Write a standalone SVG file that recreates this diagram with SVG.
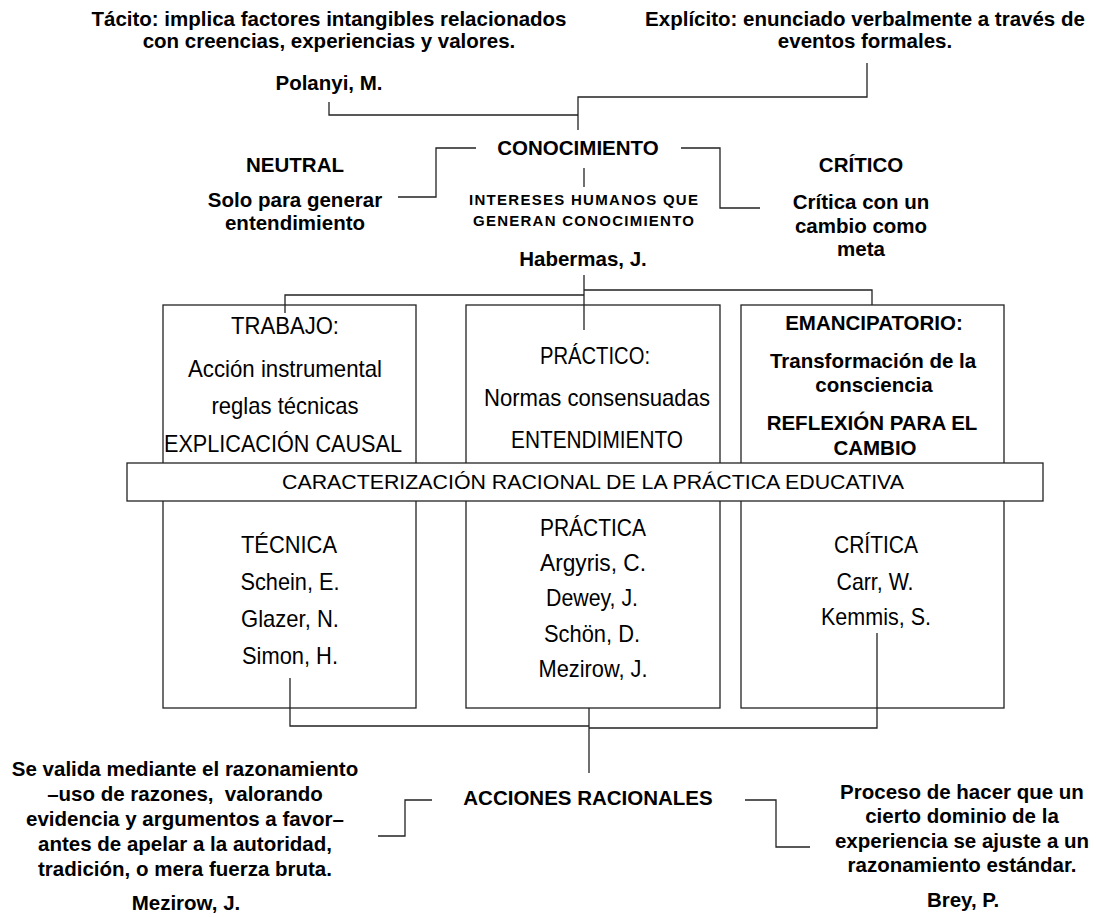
<svg xmlns="http://www.w3.org/2000/svg" width="1096" height="917" viewBox="0 0 1096 917">
  <style>
    text { font-family: "Liberation Sans", Arial, sans-serif; fill: #000; text-anchor: middle; }
    .b { font-size: 20.5px; font-weight: bold; }
    .n { font-size: 24px; }
    .band-t { font-size: 21px; }
    .s { font-size: 15px; font-weight: bold; }
    .box { fill: none; stroke: #222; stroke-width: 1.3; }
    .band { fill: #fff; stroke: #222; stroke-width: 1.3; }
    #connectors path { fill: none; stroke: #222; stroke-width: 1.3; }
  </style>
  <rect width="1096" height="917" fill="#fff"/>

  <!-- knowledge types -->
  <g id="tacito">
    <text class="b" x="329" y="26">Tácito: implica factores intangibles relacionados</text>
    <text class="b" x="329" y="48">con creencias, experiencias y valores.</text>
    <text class="b" x="329" y="90">Polanyi, M.</text>
  </g>
  <g id="explicito">
    <text class="b" x="865" y="26">Explícito: enunciado verbalmente a través de</text>
    <text class="b" x="865" y="48">eventos formales.</text>
  </g>

  <g id="conocimiento">
    <text class="b" x="578" y="155">CONOCIMIENTO</text>
  </g>
  <g id="neutral">
    <text class="b" x="295" y="172">NEUTRAL</text>
    <text class="b" x="295" y="207">Solo para generar</text>
    <text class="b" x="295" y="230">entendimiento</text>
  </g>
  <g id="critico">
    <text class="b" x="861" y="172">CRÍTICO</text>
    <text class="b" x="861" y="209">Crítica con un</text>
    <text class="b" x="861" y="233">cambio como</text>
    <text class="b" x="861" y="256">meta</text>
  </g>
  <g id="intereses">
    <text class="s" x="583.5" y="205" textLength="229">INTERESES HUMANOS QUE</text>
    <text class="s" x="583.5" y="226" textLength="221">GENERAN CONOCIMIENTO</text>
    <text class="b" x="583" y="266">Habermas, J.</text>
  </g>

  <!-- three columns -->
  <g id="col-trabajo">
    <rect class="box" x="163" y="305" width="253" height="403"/>
    <text class="n" x="285" y="334" textLength="108" lengthAdjust="spacingAndGlyphs">TRABAJO:</text>
    <text class="n" x="285" y="377" textLength="194" lengthAdjust="spacingAndGlyphs">Acción instrumental</text>
    <text class="n" x="285" y="414" textLength="147" lengthAdjust="spacingAndGlyphs">reglas técnicas</text>
    <text class="n" x="283" y="452" textLength="238" lengthAdjust="spacingAndGlyphs">EXPLICACIÓN CAUSAL</text>
    <text class="n" x="289" y="553" textLength="96" lengthAdjust="spacingAndGlyphs">TÉCNICA</text>
    <text class="n" x="290" y="590" textLength="99" lengthAdjust="spacingAndGlyphs">Schein, E.</text>
    <text class="n" x="290" y="627" textLength="98" lengthAdjust="spacingAndGlyphs">Glazer, N.</text>
    <text class="n" x="290" y="664" textLength="96" lengthAdjust="spacingAndGlyphs">Simon, H.</text>
  </g>
  <g id="col-practico">
    <rect class="box" x="466" y="305" width="254" height="403"/>
    <text class="n" x="595" y="364" textLength="110" lengthAdjust="spacingAndGlyphs">PRÁCTICO:</text>
    <text class="n" x="597" y="406" textLength="226" lengthAdjust="spacingAndGlyphs">Normas consensuadas</text>
    <text class="n" x="597" y="448" textLength="172" lengthAdjust="spacingAndGlyphs">ENTENDIMIENTO</text>
    <text class="n" x="593" y="536" textLength="106" lengthAdjust="spacingAndGlyphs">PRÁCTICA</text>
    <text class="n" x="593" y="571" textLength="106" lengthAdjust="spacingAndGlyphs">Argyris, C.</text>
    <text class="n" x="592" y="606" textLength="92" lengthAdjust="spacingAndGlyphs">Dewey, J.</text>
    <text class="n" x="592" y="642" textLength="96" lengthAdjust="spacingAndGlyphs">Schön, D.</text>
    <text class="n" x="593" y="677" textLength="109" lengthAdjust="spacingAndGlyphs">Mezirow, J.</text>
  </g>
  <g id="col-emancipatorio">
    <rect class="box" x="741" y="305" width="263" height="403"/>
    <text class="b" x="874" y="330">EMANCIPATORIO:</text>
    <text class="b" x="873" y="368">Transformación de la</text>
    <text class="b" x="874" y="392">consciencia</text>
    <text class="b" x="872" y="430">REFLEXIÓN PARA EL</text>
    <text class="b" x="875" y="455">CAMBIO</text>
    <text class="n" x="876" y="553" textLength="84" lengthAdjust="spacingAndGlyphs">CRÍTICA</text>
    <text class="n" x="875" y="590" textLength="77" lengthAdjust="spacingAndGlyphs">Carr, W.</text>
    <text class="n" x="876" y="625" textLength="110" lengthAdjust="spacingAndGlyphs">Kemmis, S.</text>
  </g>

  <g id="caracterizacion">
    <rect class="band" x="127" y="463" width="916" height="38"/>
    <text class="band-t" x="593" y="489" textLength="622" lengthAdjust="spacingAndGlyphs">CARACTERIZACIÓN RACIONAL DE LA PRÁCTICA EDUCATIVA</text>
  </g>

  <!-- rational actions -->
  <g id="acciones">
    <text class="b" x="588" y="805">ACCIONES RACIONALES</text>
  </g>
  <g id="mezirow">
    <text class="b" x="185" y="776">Se valida mediante el razonamiento</text>
    <text class="b" x="185" y="801" style="white-space:pre">–uso de razones,  valorando</text>
    <text class="b" x="185" y="826">evidencia y argumentos a favor–</text>
    <text class="b" x="185" y="851">antes de apelar a la autoridad,</text>
    <text class="b" x="185" y="876">tradición, o mera fuerza bruta.</text>
    <text class="b" x="186" y="910">Mezirow, J.</text>
  </g>
  <g id="brey">
    <text class="b" x="962" y="799">Proceso de hacer que un</text>
    <text class="b" x="962" y="823">cierto dominio de la</text>
    <text class="b" x="962" y="848">experiencia se ajuste a un</text>
    <text class="b" x="962" y="872">razonamiento estándar.</text>
    <text class="b" x="963" y="907">Brey, P.</text>
  </g>

  <g id="connectors">
    <path d="M329,102 V115 H578"/>
    <path d="M867,63 V97 H578 V130"/>
    <path d="M476,148 H436 V197 H398"/>
    <path d="M681,148 H720 V208 H760"/>
    <path d="M584,168 V187"/>
    <path d="M584,275 V330"/>
    <path d="M584,295 H285 V313"/>
    <path d="M584,290 H872 V305"/>
    <path d="M290,678 V726 H589"/>
    <path d="M877,633 V728 H589"/>
    <path d="M589,708 V773"/>
    <path d="M432,800 H405 V836 H378"/>
    <path d="M745,800 H776 V847 H810"/>
  </g>
</svg>
